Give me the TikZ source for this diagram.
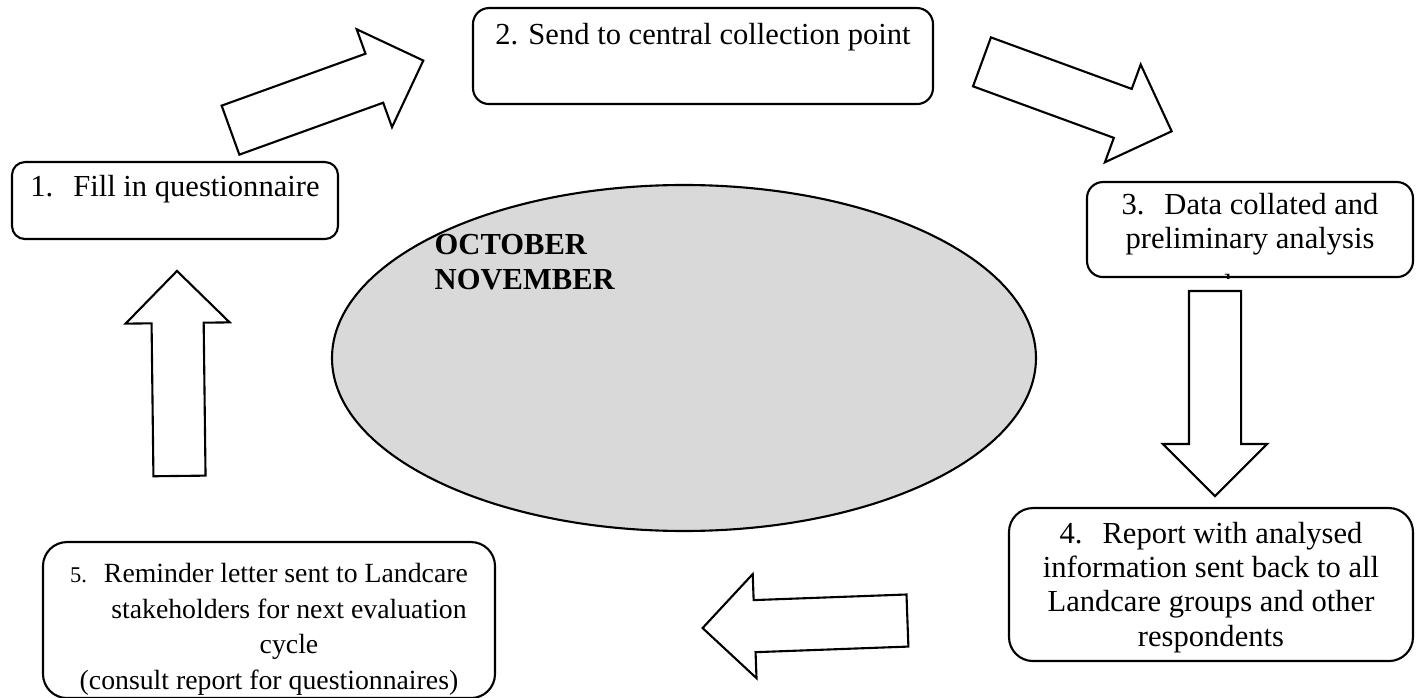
\documentclass[tikz,border=0pt]{standalone}
\usepackage{fontspec}
\setmainfont{Liberation Serif}
\usetikzlibrary{shapes.geometric,shapes.arrows}
\definecolor{ovalgray}{HTML}{D9D9D9}

\tikzset{
  stage/.style={draw, line width=0.6pt, anchor=north, align=flush center, inner sep=0pt, fill=white},
  flow/.style={draw, line width=0.6pt, single arrow, single arrow head extend=0.26cm,
    inner sep=0pt, inner ysep=0.25cm, minimum width=0pt, anchor=tail}
}

\begin{document}
\begin{tikzpicture}[font=\fontsize{8.7}{9.8}\selectfont]
\useasboundingbox (0,0) rectangle (14.16,6.98);
% centre oval
\node[ellipse, draw, fill=ovalgray, line width=0.6pt, minimum width=7.04cm, minimum height=3.46cm, inner sep=0pt] (cycle) at (6.84,3.40) {};
\node[anchor=base west, align=flush left, text width=2.5cm, inner sep=0pt, font=\fontsize{8.7}{9.8}\selectfont\bfseries] (months) at (4.34,4.43) {OCTOBER\\NOVEMBER};
% stages
\node[stage, rounded corners=0.13cm, minimum width=3.26cm, text width=3.2cm, text height=0.34cm, text depth=0.43cm] (fill) at (1.75,5.37) {1.\hspace{0.2cm}Fill in questionnaire};
\node[stage, rounded corners=0.16cm, minimum width=4.6cm, text width=4.55cm, text height=0.36cm, text depth=0.60cm] (collect) at (7.03,6.91) {2. Send to central collection point};
\node[stage, rounded corners=0.16cm, minimum width=3.26cm, text width=3.2cm, text height=0.32cm, text depth=0.63cm] (collate) at (12.50,5.17) {3.\hspace{0.2cm}Data collated and\\preliminary analysis};
\begin{scope}
  \clip[rounded corners=0.16cm] (collate.south west) rectangle (collate.north east);
  \node[anchor=base, inner sep=0pt] (collatetail) at ([xshift=-0.04cm, yshift=-0.17cm]collate.south) {done};
\end{scope}
\node[stage, rounded corners=0.24cm, minimum width=4.04cm, text width=3.95cm, text height=0.35cm, text depth=1.18cm] (report) at (12.11,1.91) {4.\hspace{0.2cm}Report with analysed\\information sent back to all\\Landcare groups and other\\respondents};
\node[stage, rounded corners=0.24cm, minimum width=4.52cm, text width=4.48cm, text height=0.405cm, text depth=1.155cm, font=\fontsize{7.9}{10.1}\selectfont] (remind) at (2.69,1.57) {{\fontsize{6.4}{8}\selectfont 5.}\hspace{0.17cm}Reminder letter sent to Landcare\\\hspace*{0.4cm}stakeholders for next evaluation\\\hspace*{0.4cm}cycle\\(consult report for questionnaires)};
% block arrows
\node[flow, minimum height=2.05cm, rotate=19.85] (a1) at (2.295,5.675) {};
\node[flow, minimum height=2.02cm, rotate=-20.1] (a2) at (9.81,6.365) {};
\node[flow, minimum height=2.05cm, rotate=-90] (a3) at (12.15,4.08) {};
\node[flow, minimum height=2.05cm, rotate=182.1] (a4) at (9.085,0.775) {};
\node[flow, minimum height=2.05cm, rotate=90.7] (a5) at (1.795,2.21) {};
\end{tikzpicture}
\end{document}
